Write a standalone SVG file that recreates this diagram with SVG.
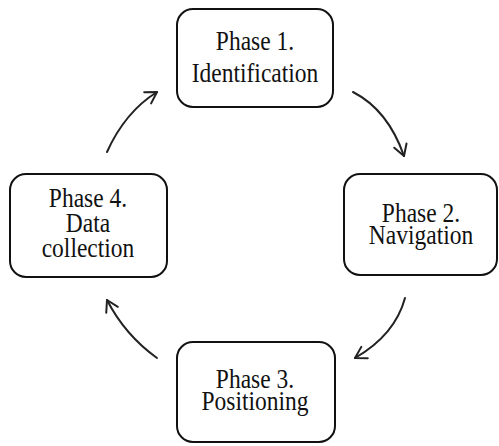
<svg xmlns="http://www.w3.org/2000/svg" width="499" height="446" viewBox="0 0 499 446">
  <style>
    .box { fill: #ffffff; stroke: #111111; stroke-width: 2; }
    .t { font-family: 'Liberation Serif', 'Times New Roman', Times, serif; font-size: 23.5px; text-anchor: middle; fill: #111111; }
    .arrow { fill: none; stroke: #222222; stroke-width: 2; stroke-linecap: round; marker-end: url(#head); }
  </style>
  <defs>
    <marker id="head" markerUnits="userSpaceOnUse" markerWidth="16" markerHeight="16" viewBox="0 0 16 16" refX="13" refY="8" orient="auto">
      <path d="M2,1.5 L13,8 L2,14.5" fill="none" stroke="#222222" stroke-width="2" stroke-linecap="round" stroke-linejoin="round"/>
    </marker>
  </defs>
  <rect width="499" height="446" fill="#ffffff"/>

  <g id="connectors">
    <path class="arrow" d="M353,92 Q388,110 404,156"/>
    <path class="arrow" d="M405,298 Q395,335 355,358"/>
    <path class="arrow" d="M157,358 Q125,335 107,300"/>
    <path class="arrow" d="M107,152 Q125,112 157,92"/>
  </g>

  <g id="phase1">
    <rect class="box" x="177" y="9" width="156" height="98" rx="16" ry="16"/>
    <text class="t" font-family="Liberation Serif, serif" transform="translate(255,50) scale(1,1.15)"><tspan x="0" y="0">Phase 1.</tspan><tspan x="0" dy="27.8">Identification</tspan></text>
  </g>

  <g id="phase2">
    <rect class="box" x="344" y="174" width="153" height="101" rx="16" ry="16"/>
    <text class="t" font-family="Liberation Serif, serif" transform="translate(421,222) scale(1,1.15)"><tspan x="0" y="0">Phase 2.</tspan><tspan x="0" dy="19.1">Navigation</tspan></text>
  </g>

  <g id="phase3">
    <rect class="box" x="177" y="342" width="158" height="100" rx="16" ry="16"/>
    <text class="t" font-family="Liberation Serif, serif" transform="translate(255,388) scale(1,1.15)"><tspan x="0" y="0">Phase 3.</tspan><tspan x="0" dy="19.1">Positioning</tspan></text>
  </g>

  <g id="phase4">
    <rect class="box" x="10" y="174" width="157" height="103" rx="16" ry="16"/>
    <text class="t" font-family="Liberation Serif, serif" transform="translate(88,207) scale(1,1.15)"><tspan x="0" y="0">Phase 4.</tspan><tspan x="0" dy="21.7">Data</tspan><tspan x="0" dy="21.7">collection</tspan></text>
  </g>
</svg>
